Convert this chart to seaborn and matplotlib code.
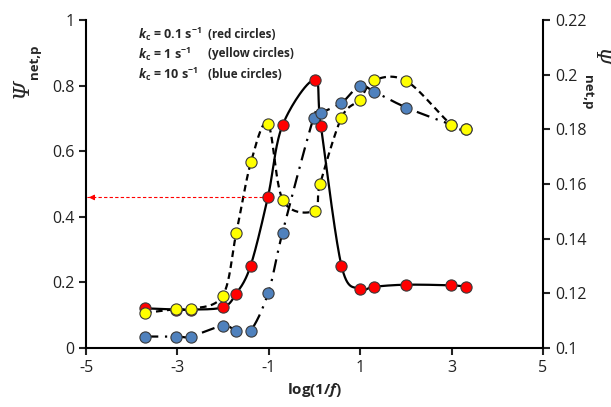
import numpy as np
import pandas as pd
import matplotlib
matplotlib.use('Agg')
import matplotlib.pyplot as plt
import seaborn as sns

# data, x = log(1/f), y = Psi_net,p (left axis)
red_x = [-3.71, -3.02, -2.71, -2.01, -1.72, -1.40, -1.02, -0.70, 0.00, 0.14, 0.59, 0.99, 1.31, 2.01, 2.99, 3.31]
red_y = [0.121, 0.117, 0.117, 0.124, 0.164, 0.250, 0.460, 0.679, 0.818, 0.677, 0.251, 0.180, 0.187, 0.193, 0.191, 0.187]

yellow_x = [-3.71, -3.02, -2.71, -2.01, -1.71, -1.39, -1.02, -0.69, 0.00, 0.12, 0.59, 0.99, 1.30, 2.01, 2.99, 3.31]
yellow_y = [0.107, 0.119, 0.119, 0.159, 0.352, 0.567, 0.684, 0.450, 0.418, 0.499, 0.702, 0.757, 0.816, 0.814, 0.681, 0.667]

blue_x = [-3.71, -3.02, -2.71, -2.01, -1.71, -1.40, -1.01, -0.70, -0.02, 0.14, 0.59, 0.99, 1.30, 2.01, 2.99, 3.31]
blue_y = [0.035, 0.035, 0.035, 0.068, 0.053, 0.053, 0.169, 0.352, 0.702, 0.717, 0.747, 0.800, 0.782, 0.733, 0.681, 0.667]

x_ticks = [-5, -3, -1, 1, 3, 5]
left_ticks = [0, 0.2, 0.4, 0.6, 0.8, 1]
right_ticks = [0.1, 0.12, 0.14, 0.16, 0.18, 0.2, 0.22]

arrow_x = [-1.02, -5]
arrow_y = [0.459, 0.459]


def smooth(xs, ys, n=30):
    # Excel-style smoothed line: cubic bezier through every point
    p = np.column_stack([xs, ys])
    p_ext = np.vstack([p[0], p, p[-1]])
    out = []
    for i in range(1, len(p_ext) - 2):
        p0, p1, p2, p3 = p_ext[i - 1], p_ext[i], p_ext[i + 1], p_ext[i + 2]
        c1 = p1 + (p2 - p0) / 6
        c2 = p2 - (p3 - p1) / 6
        t = np.linspace(0, 1, n)[:, None]
        seg = (1 - t) ** 3 * p1 + 3 * (1 - t) ** 2 * t * c1 + 3 * (1 - t) * t ** 2 * c2 + t ** 3 * p2
        out.append(seg if i == 1 else seg[1:])
    seg = np.vstack(out)
    return pd.DataFrame({'x': seg[:, 0], 'y': seg[:, 1]})


sns.set_style('ticks')
plt.rcParams['font.family'] = ['Open Sans', 'DejaVu Sans']
plt.rcParams['mathtext.fontset'] = 'custom'
plt.rcParams['mathtext.rm'] = 'Open Sans'
plt.rcParams['mathtext.it'] = 'Open Sans:italic'
plt.rcParams['mathtext.bf'] = 'Open Sans:bold'
plt.rcParams['mathtext.bfit'] = 'Open Sans:bold:italic'

fig = plt.figure(figsize=(6.11, 4.07), dpi=100)
ax = fig.add_axes([86 / 611, 59 / 407, 457 / 611, 328 / 407])

series = [
    (red_x, red_y, '#FF0000', '-', 2),
    (blue_x, blue_y, '#4F81BD', (0, (6, 3, 1, 3)), 3),
    (yellow_x, yellow_y, '#FFFF00', (0, (3, 2)), 4),
]

for xs, ys, col, ls, z in series:
    df = smooth(xs, ys)
    sns.lineplot(data=df, x='x', y='y', sort=False, estimator=None, color='black',
                 linewidth=1.6, linestyle=ls, ax=ax, zorder=1)

for xs, ys, col, ls, z in series:
    sns.scatterplot(x=xs, y=ys, color=col, edgecolor='#3a3a3a', linewidth=0.8,
                    s=65, ax=ax, zorder=z)

# red dashed guide arrow
ax.plot(arrow_x, arrow_y, color='red', linestyle=(0, (3, 2)), linewidth=0.8, zorder=1)
ax.annotate('', xy=(arrow_x[1], arrow_y[1]), xytext=(arrow_x[1] + 0.15, arrow_y[1]),
            arrowprops=dict(arrowstyle='-|>', color='red', lw=0.8, mutation_scale=8))

ax.set_xlim(-5, 5)
ax.set_ylim(0, 1)
ax.set_xticks(x_ticks)
ax.set_xticklabels([str(t) for t in x_ticks])
ax.set_yticks(left_ticks)
ax.set_yticklabels(['0', '0.2', '0.4', '0.6', '0.8', '1'])

ax2 = ax.twinx()
ax2.set_ylim(0.1, 0.22)
ax2.set_yticks(right_ticks)
ax2.set_yticklabels(['0.1', '0.12', '0.14', '0.16', '0.18', '0.2', '0.22'])

for a in (ax, ax2):
    a.spines['top'].set_visible(False)
    for s in a.spines.values():
        s.set_linewidth(1.5)
        s.set_color('black')
    a.tick_params(width=1.5, length=5, labelsize=11.5, colors='#222222')
ax.spines['right'].set_visible(False)
ax2.spines['left'].set_visible(False)
ax2.spines['bottom'].set_visible(False)

ax.set_xlabel(r'log(1/$\mathbfit{f}$)', fontsize=11, fontweight='bold', labelpad=4)
ax.set_ylabel('')
ax2.set_ylabel('')

# axis titles: italic serif Psi with bold subscript, placed as in the reference
fig.text(22 / 611, 1 - 88 / 407, 'Ψ', rotation=90, style='italic', family='DejaVu Serif',
         fontsize=16, ha='center', va='center')
fig.text(34 / 611, 1 - 62 / 407, 'net,p', rotation=90, fontweight='bold', fontsize=9.5,
         ha='center', va='center')
fig.text(599 / 611, 1 - 57 / 407, 'Ψ', rotation=270, style='italic', family='DejaVu Serif',
         fontsize=15, ha='center', va='center')
fig.text(588 / 611, 1 - 92 / 407, 'net,p', rotation=270, fontweight='bold', fontsize=9.5,
         ha='center', va='center')

notes = [
    (r'$\mathbfit{k}_{\mathbf{c}}$ = 0.1 s$^{\mathbf{-1}}$', '(red circles)'),
    (r'$\mathbfit{k}_{\mathbf{c}}$ = 1 s$^{\mathbf{-1}}$', '(yellow circles)'),
    (r'$\mathbfit{k}_{\mathbf{c}}$ = 10 s$^{\mathbf{-1}}$', '(blue circles)'),
]
for i, (left, right) in enumerate(notes):
    y = 1 - (34 + 20 * i) / 407
    fig.text(138 / 611, y, left, fontsize=9, fontweight='bold', va='center')
    fig.text(208 / 611, y, right, fontsize=8.5, fontweight='bold', va='center')

fig.savefig('out.png', dpi=100)
